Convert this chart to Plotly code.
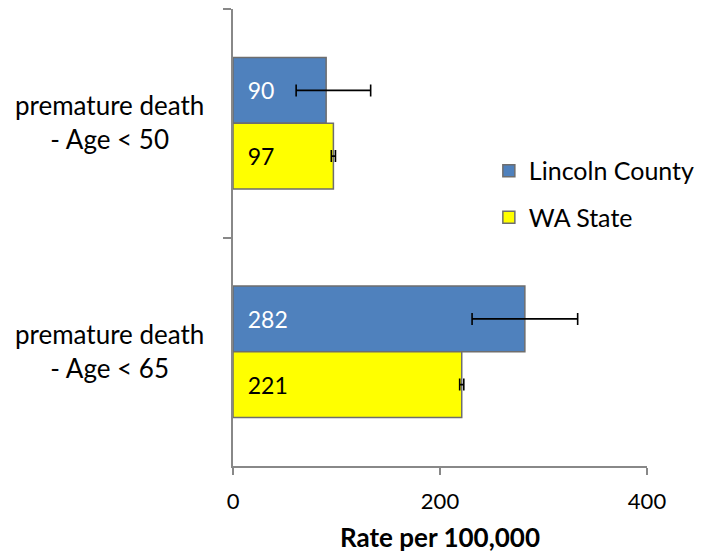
import plotly.graph_objects as go

categories = ["premature death<br>- Age < 50", "premature death<br>- Age < 65"]
series_names = ["Lincoln County", "WA State"]
lincoln_values = [90, 282]
lincoln_err_plus = [43, 51]
lincoln_err_minus = [29, 51]
wa_values = [97, 221]
wa_err_plus = [2, 2]
wa_err_minus = [2, 2]
x_ticks = [0, 200, 400]

FONT = "Lato"
NB = "\u00a0\u00a0"

fig = go.Figure()
fig.add_trace(go.Bar(
    name=series_names[0], y=categories, x=lincoln_values, orientation="h",
    marker=dict(color="#4F81BD", line=dict(color="#6E6E6E", width=1.5)),
    text=[NB + str(v) for v in lincoln_values], textposition="inside",
    insidetextanchor="start", textfont=dict(color="white", size=23, family=FONT),
    error_x=dict(type="data", symmetric=False, array=lincoln_err_plus,
                 arrayminus=lincoln_err_minus, color="black", thickness=1.6, width=6),
    legendgroup="a",
))
fig.add_trace(go.Bar(
    name=series_names[1], y=categories, x=wa_values, orientation="h",
    marker=dict(color="#FFFF00", line=dict(color="#6E6E6E", width=1.5)),
    text=[NB + str(v) for v in wa_values], textposition="inside",
    insidetextanchor="start", textfont=dict(color="black", size=23, family=FONT),
    error_x=dict(type="data", symmetric=False, array=wa_err_plus,
                 arrayminus=wa_err_minus, color="black", thickness=1.6, width=6),
    legendgroup="b",
))

for c in categories:
    fig.add_annotation(x=-0.2995, xref="paper", y=c, yref="y", text=c,
                       showarrow=False, xanchor="center", yanchor="middle",
                       align="center", yshift=1,
                       font=dict(size=26, family=FONT, color="black"))

fig.update_layout(
    width=701, height=557,
    margin=dict(l=233, r=54, t=9, b=91, autoexpand=False),
    paper_bgcolor="white", plot_bgcolor="white",
    barmode="group", bargap=0.425, bargroupgap=0,
    font=dict(family=FONT, size=23, color="black"),
    legend=dict(x=0.618, y=0.696, xanchor="left", yanchor="top",
                font=dict(size=25, family=FONT), traceorder="grouped",
                tracegroupgap=11, bgcolor="rgba(0,0,0,0)", itemwidth=30),
    xaxis=dict(range=[0, 400], tickvals=x_ticks, ticks="outside", ticklen=7,
               tickcolor="#888888", tickwidth=1.5, showline=True, linecolor="#888888",
               linewidth=1.5, showgrid=False, zeroline=False, ticklabelstandoff=8,
               tickfont=dict(size=22, family=FONT),
               title=dict(text="<b>Rate per 100,000</b>", font=dict(size=26, family=FONT), standoff=16)),
    yaxis=dict(autorange="reversed", showticklabels=False, ticks="outside",
               tickson="boundaries", ticklen=8, tickcolor="#888888", tickwidth=1.5,
               showline=True, linecolor="#888888", linewidth=1.5, showgrid=False,
               zeroline=False),
)

fig.write_html("out.html", config={"displayModeBar": False},
               post_script="document.body.style.margin='0';")
